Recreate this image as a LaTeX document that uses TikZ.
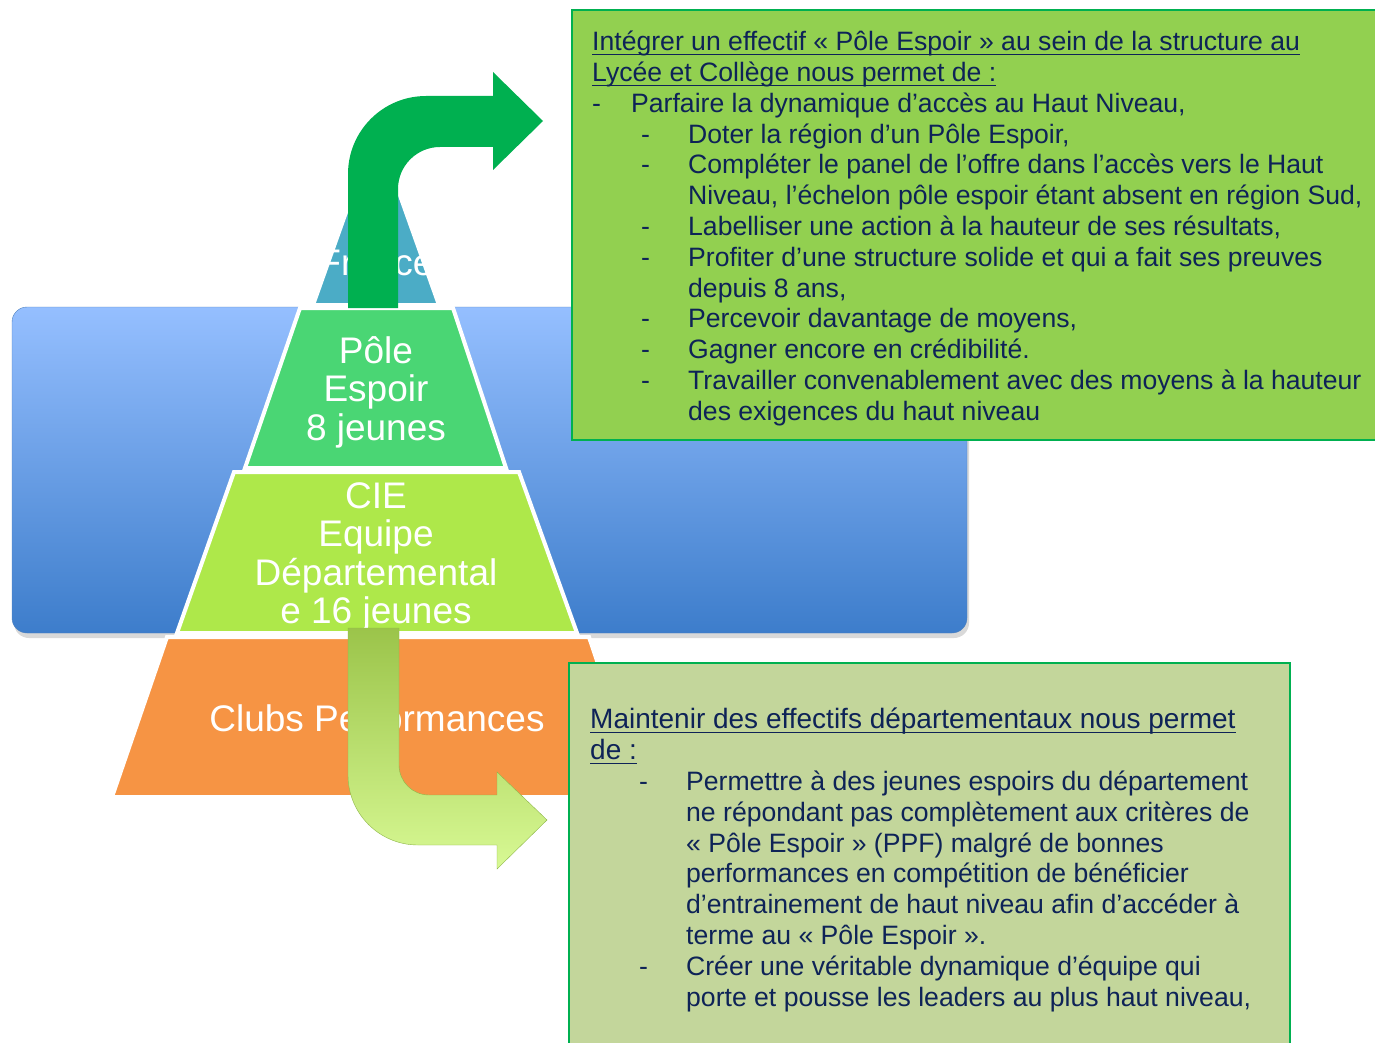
\documentclass[tikz,border=0pt]{standalone}
\usepackage{fontspec}
\setmainfont{Liberation Sans}
\usepackage{xcolor}
\usetikzlibrary{shadows}
\definecolor{franceblue}{RGB}{75,172,198}
\definecolor{polegreen}{RGB}{74,214,116}
\definecolor{ciegreen}{RGB}{174,232,74}
\definecolor{clubsorange}{RGB}{246,148,68}
\definecolor{backtop}{RGB}{149,191,255}
\definecolor{backbottom}{RGB}{61,125,203}
\definecolor{backline}{RGB}{79,129,189}
\definecolor{arrowgreen}{RGB}{0,176,80}
\definecolor{arrowtop}{RGB}{155,196,74}
\definecolor{arrowbottom}{RGB}{216,249,148}
\definecolor{arrowline}{RGB}{141,182,72}
\definecolor{upperfill}{RGB}{146,208,80}
\definecolor{lowerfill}{RGB}{195,214,155}
\definecolor{navytext}{RGB}{14,35,87}
\newcommand{\hdrline}[1]{\setbox0\hbox{#1}\rlap{\rule[-4.5pt]{\wd0}{1.3pt}}\box0}
\newcommand{\lvlone}[1]{\makebox[39pt][l]{-}#1}
\newcommand{\lvltwo}[1]{\makebox[49pt]{}\makebox[47pt][l]{-}#1}
\newcommand{\lvlcont}[1]{\makebox[96pt]{}#1}

\begin{document}
\begin{tikzpicture}[x=1pt, y=-1pt,
  level/.style={draw=white, line width=4pt},
  pyrtext/.style={text=white, align=center, inner sep=0pt, font=\fontsize{37}{38.5}\selectfont},
  boxtext/.style={text=navytext, align=left, anchor=north west, inner sep=0pt, font=\fontsize{26.6}{30.8}\selectfont}]
\useasboundingbox (0,0) rectangle (1375,1043);
% Background
\draw[draw=backline, rounded corners=15pt, top color=backtop, bottom color=backbottom,
  drop shadow={opacity=0.3, shadow xshift=2pt, shadow yshift=-5pt}] (12,307) rectangle (967,633);
% Pyramid
\filldraw[level, fill=franceblue] (313,305) -- (376,128) -- (439,305) -- cycle;
\filldraw[level, fill=polegreen] (300,308) -- (453,308) -- (506,468) -- (245,468) -- cycle;
\filldraw[level, fill=ciegreen] (234,472) -- (519,472) -- (577,633) -- (177,633) -- cycle;
\filldraw[level, fill=clubsorange] (167,637) -- (589,637) -- (643,797) -- (112,797) -- cycle;
\node[pyrtext] (france) at (376,263) {France};
\node[pyrtext] (pole) at (376,392) {Pôle\\Espoir\\8 jeunes};
\node[pyrtext] (cie) at (376,557) {CIE\\Equipe\\Départemental\\e 16 jeunes};
\node[pyrtext] (clubs) at (377,718) {Clubs Performances};
% Arrows
\fill[arrowgreen] (348,308) -- (348,174) arc[start angle=180, end angle=270, radius=78]
  -- (493,96) -- (493,72) -- (543,121) -- (493,170) -- (493,147) -- (440,147)
  arc[start angle=270, end angle=180, radius=42] -- (398,308) -- cycle;
\draw[draw=arrowline, top color=arrowtop, bottom color=arrowbottom] (348,628) -- (348,775)
  arc[start angle=180, end angle=90, radius=70] -- (497,845) -- (497,869) -- (547,820)
  -- (497,772) -- (497,795) -- (429,795) arc[start angle=90, end angle=180, radius=30]
  -- (399,628) -- cycle;
% Upper box
\filldraw[fill=upperfill, draw=arrowgreen, line width=2pt] (572,10) rectangle (1385,440);
\node[boxtext] (upperlist) at (592,31) {\hdrline{Intégrer un effectif « Pôle Espoir » au sein de la structure au}\\
  \hdrline{Lycée et Collège nous permet de :}\\
  \lvlone{Parfaire la dynamique d’accès au Haut Niveau,}\\
  \lvltwo{Doter la région d’un Pôle Espoir,}\\
  \lvltwo{Compléter le panel de l’offre dans l’accès vers le Haut}\\
  \lvlcont{Niveau, l’échelon pôle espoir étant absent en région Sud,}\\
  \lvltwo{Labelliser une action à la hauteur de ses résultats,}\\
  \lvltwo{Profiter d’une structure solide et qui a fait ses preuves}\\
  \lvlcont{depuis 8 ans,}\\
  \lvltwo{Percevoir davantage de moyens,}\\
  \lvltwo{Gagner encore en crédibilité.}\\
  \lvltwo{Travailler convenablement avec des moyens à la hauteur}\\
  \lvlcont{des exigences du haut niveau}};
% Lower box
\filldraw[fill=lowerfill, draw=arrowgreen, line width=1.5pt] (569,663) rectangle (1290,1055);
\node[boxtext] (lowerlist) at (590,708) {{\fontsize{28}{30.8}\selectfont\hdrline{Maintenir des effectifs départementaux nous permet}}\\
  {\fontsize{28}{30.8}\selectfont\hdrline{de :}}\\
  \lvltwo{Permettre à des jeunes espoirs du département}\\
  \lvlcont{ne répondant pas complètement aux critères de}\\
  \lvlcont{« Pôle Espoir » (PPF) malgré de bonnes}\\
  \lvlcont{performances en compétition de bénéficier}\\
  \lvlcont{d’entrainement de haut niveau afin d’accéder à}\\
  \lvlcont{terme au « Pôle Espoir ».}\\
  \lvltwo{Créer une véritable dynamique d’équipe qui}\\
  \lvlcont{porte et pousse les leaders au plus haut niveau,}};
\end{tikzpicture}
\end{document}
